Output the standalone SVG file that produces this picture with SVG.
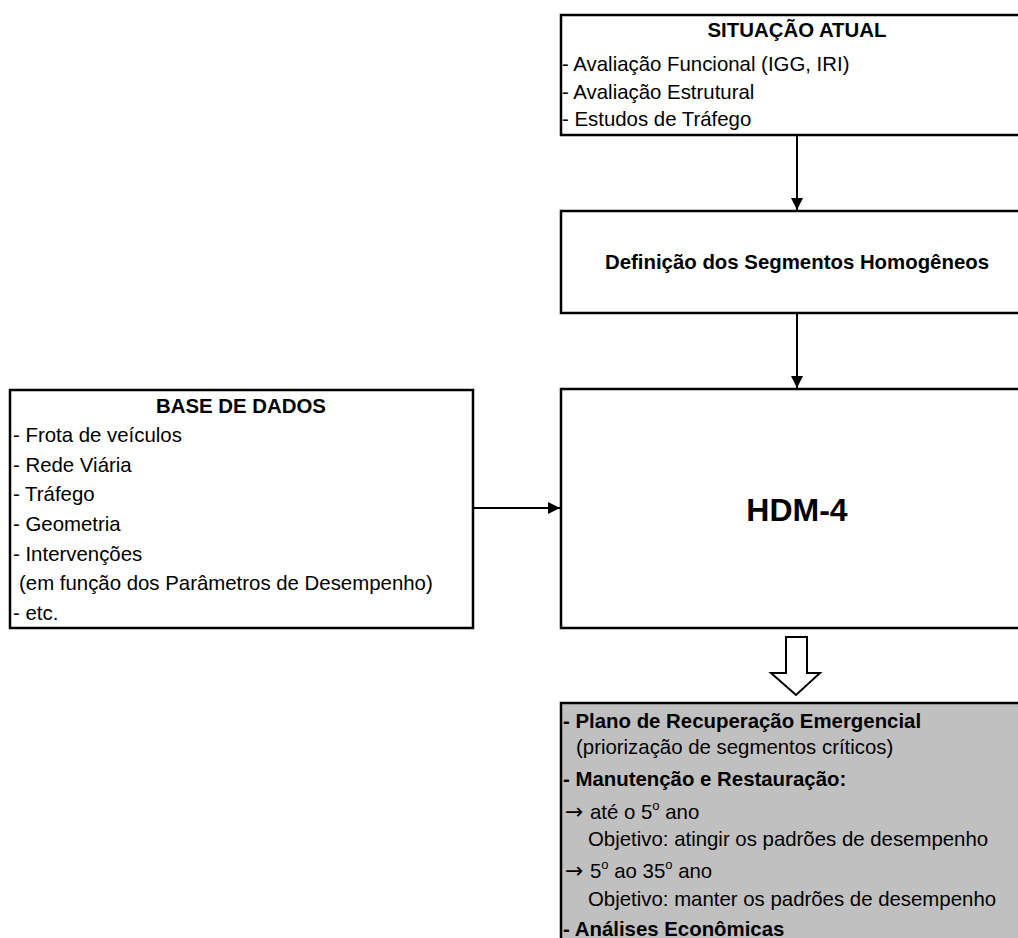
<svg xmlns="http://www.w3.org/2000/svg" width="1018" height="938" viewBox="0 0 1018 938">
<style>
.box{fill:#ffffff;stroke:#000000;stroke-width:2.5}
.gray{fill:#c0c0c0;stroke:#000000;stroke-width:2.5}
.conn{stroke:#000000;stroke-width:2;fill:none}
text{font-family:"Liberation Sans",Arial,sans-serif;font-size:20.4px;fill:#000000}
.b{font-weight:bold}
.c{text-anchor:middle}
.sup{font-size:13px}
.arr{font-family:"DejaVu Sans",sans-serif;font-size:22px}
</style>
<defs>
<marker id="ah" markerWidth="12" markerHeight="12" refX="12" refY="6" orient="auto" markerUnits="userSpaceOnUse">
<path d="M0,0 L12,6 L0,12 Z" fill="#000000"/>
</marker>
</defs>
<rect width="1018" height="938" fill="#ffffff"/>
<g id="connectors">
<line class="conn" x1="797" y1="135" x2="797" y2="210" marker-end="url(#ah)"/>
<line class="conn" x1="797" y1="313" x2="797" y2="388" marker-end="url(#ah)"/>
<line class="conn" x1="473" y1="508" x2="560" y2="508" marker-end="url(#ah)"/>
<path d="M786,637 L807,637 L807,673 L820,673 L796,695 L771,673 L786,673 Z" fill="#ffffff" stroke="#000000" stroke-width="2"/>
</g>
<g id="situacao">
<rect class="box" x="561" y="15" width="480" height="120"/>
<text class="b c" x="797" y="37">SITUAÇÃO ATUAL</text>
<text x="562" y="71">- Avaliação Funcional (IGG, IRI)</text>
<text x="562" y="99">- Avaliação Estrutural</text>
<text x="562" y="126">- Estudos de Tráfego</text>
</g>
<g id="definicao">
<rect class="box" x="561" y="211" width="480" height="102"/>
<text class="b c" x="797" y="269">Definição dos Segmentos Homogêneos</text>
</g>
<g id="hdm4">
<rect class="box" x="561" y="389" width="480" height="239"/>
<text class="b c" x="797" y="521" style="font-size:32px">HDM-4</text>
</g>
<g id="base">
<rect class="box" x="10" y="390" width="463" height="238"/>
<text class="b c" x="241" y="413">BASE DE DADOS</text>
<text x="13" y="442">- Frota de veículos</text>
<text x="13" y="472">- Rede Viária</text>
<text x="13" y="501">- Tráfego</text>
<text x="13" y="531">- Geometria</text>
<text x="13" y="561">- Intervenções</text>
<text x="19" y="590">(em função dos Parâmetros de Desempenho)</text>
<text x="13" y="620">- etc.</text>
</g>
<g id="resultados">
<rect class="gray" x="561" y="703" width="480" height="260"/>
<text class="b" x="563" y="728">- Plano de Recuperação Emergencial</text>
<text x="576" y="754">(priorização de segmentos críticos)</text>
<text class="b" x="563" y="786">- Manutenção e Restauração:</text>
<text x="565" y="819"><tspan class="arr">→</tspan><tspan x="590">até o 5</tspan><tspan class="sup" dy="-9">o</tspan><tspan dy="9"> ano</tspan></text>
<text x="588" y="846">Objetivo: atingir os padrões de desempenho</text>
<text x="565" y="878"><tspan class="arr">→</tspan><tspan x="590">5</tspan><tspan class="sup" dy="-9">o</tspan><tspan dy="9"> ao 35</tspan><tspan class="sup" dy="-9">o</tspan><tspan dy="9"> ano</tspan></text>
<text x="588" y="906">Objetivo: manter os padrões de desempenho</text>
<text class="b" x="563" y="936">- Análises Econômicas</text>
</g>
</svg>
